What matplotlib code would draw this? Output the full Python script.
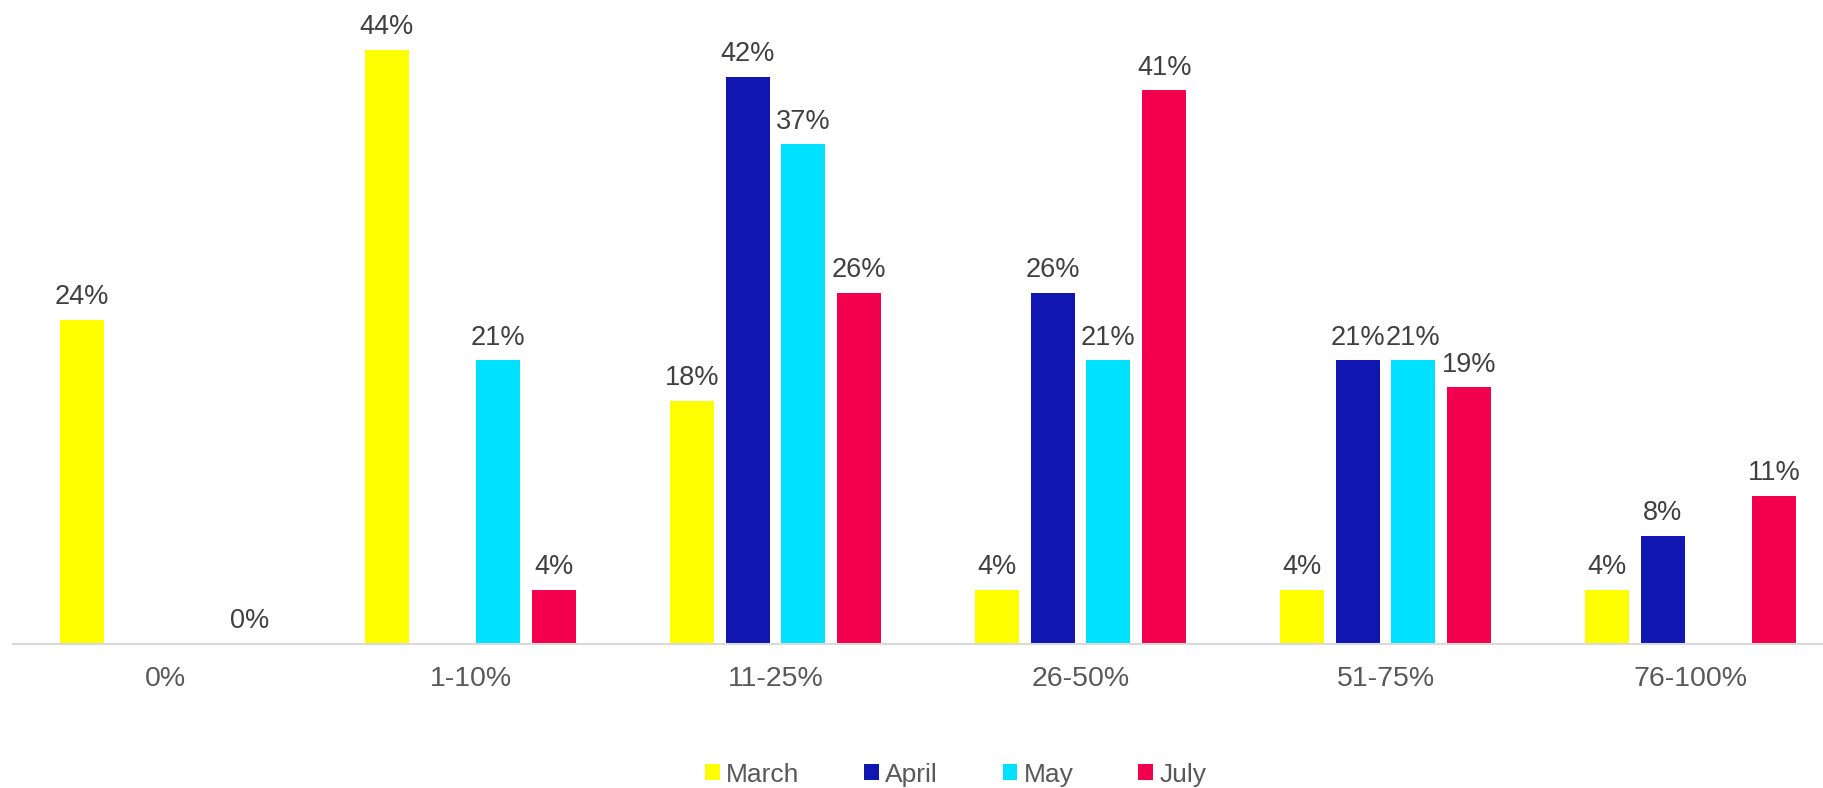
import numpy as np
import matplotlib.pyplot as plt

plt.rcParams['font.family'] = ['Liberation Sans', 'DejaVu Sans']

# categories and series (nan = no bar / no label)
categories = ['0%', '1-10%', '11-25%', '26-50%', '51-75%', '76-100%']
march = [24, 44, 18, 4, 4, 4]
april = [np.nan, np.nan, 42, 26, 21, 8]
may = [np.nan, 21, 37, 21, 21, np.nan]
july = [0, 4, 26, 41, 19, 11]

series = [('March', march, '#FFFF00'),
          ('April', april, '#1116B1'),
          ('May', may, '#00E1FF'),
          ('July', july, '#F2004F')]

fig = plt.figure(figsize=(18.24, 7.88), dpi=100)
ax = fig.add_axes([13/1824, 144/788, 1811/1824, 644/788])

x = np.arange(len(categories))
width = 0.144
step = 0.183
offsets = [-1.5*step, -0.5*step, 0.5*step, 1.5*step]

for (name, vals, color), off in zip(series, offsets):
    vals = np.array(vals, dtype=float)
    ax.bar(x + off, vals, width, color=color, label=name)
    for xi, v in zip(x, vals):
        if np.isnan(v):
            continue
        ax.annotate(str(int(v)) + '%', (xi + off, v), xytext=(0, 7),
                    textcoords='offset points', ha='center', va='bottom',
                    fontsize=19.5, color='#404040')

ax.set_xlim(-0.5, -0.5 + 1811/305)
ax.set_ylim(0, 644/13.5)
ax.set_xticks(x)
ax.set_xticklabels(categories, fontsize=20.5, color='#595959')
ax.tick_params(axis='x', length=0, pad=16)
ax.set_yticks([])
for s in ['top', 'right', 'left']:
    ax.spines[s].set_visible(False)
ax.spines['bottom'].set_color('#D9D9D9')
ax.spines['bottom'].set_linewidth(1.5)

leg = fig.legend(loc='center', bbox_to_anchor=(0.524, 0.017), ncol=4, frameon=False,
                 fontsize=19, handlelength=0.55, handleheight=0.55, handletextpad=0.25,
                 columnspacing=2.45)
for t in leg.get_texts():
    t.set_color('#595959')

fig.savefig('out.png', dpi=100)
